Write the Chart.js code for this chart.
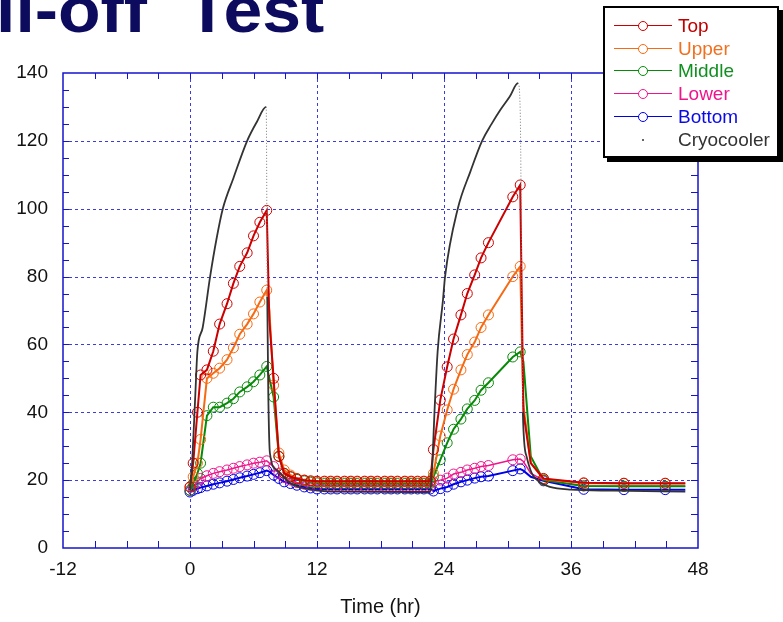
<!DOCTYPE html>
<html>
<head>
<meta charset="utf-8">
<script src="https://cdn.jsdelivr.net/npm/chart.js@4.4.1/dist/chart.umd.min.js"></script>
<style>
  html, body { margin: 0; padding: 0; background: #fff; }
  #wrap { position: relative; width: 783px; height: 622px; overflow: hidden; }
  #chart { position: absolute; left: 0; top: 0; }
  #title { position: absolute; left: -4px; top: -22px; font: bold 64px "Liberation Sans", Arial, sans-serif; line-height: 64px; color: #0d0b5e; white-space: nowrap; word-spacing: 18px; transform: scaleX(1.09); transform-origin: 0 0; }
  #legend { position: absolute; left: 603px; top: 6px; width: 172px; height: 148px; border: 2px solid #000; background: #fff; box-shadow: 4px 4px 0 #000; }
  .item { position: absolute; left: 0; width: 172px; height: 22px; }
  .item .ln { position: absolute; left: 9px; width: 58px; top: 10px; height: 0; border-top: 1.5px solid; }
  .item .mk { position: absolute; left: 33px; top: 6px; width: 10px; height: 10px; border: 1px solid; border-radius: 50%; box-sizing: border-box; background: #fff; }
  .item .dot { position: absolute; left: 37px; top: 10px; width: 2px; height: 2px; background: #666; }
  .item .tx { position: absolute; left: 73px; top: 0; font: 19px "Liberation Sans", Arial, sans-serif; line-height: 22px; }
</style>
</head>
<body>
<div id="wrap">
  <canvas id="chart" width="783" height="622"></canvas>
  <div id="title">ll-off Test</div>
  <div id="legend"></div>
</div>
<script>
// time axis (hr) shared by the five tank sensors
const hours = [0, 0.3, 0.7, 1.0, 1.6, 2.2, 2.8, 3.5, 4.1, 4.7, 5.4, 6.0, 6.6, 7.25,
  7.5, 7.9, 8.4, 8.9,
  9.5, 10.1, 10.8, 11.4, 12.0, 12.7, 13.3, 13.9, 14.6, 15.2, 15.8, 16.5, 17.1, 17.7, 18.4, 19.0, 19.6, 20.3, 20.9, 21.5, 22.1, 22.7,
  23.0, 23.65, 24.3, 24.9, 25.6, 26.2, 26.9, 27.5, 28.2, 30.5, 31.2,
  31.5, 32.2, 33.4,
  37.2, 41.0, 44.9, 46.8];

const topTemps = [18, 25, 40, 51, 52.5, 58, 66, 72, 78, 83, 87, 92, 96, 99.5,
  67, 50, 27, 22,
  21, 20.4, 20, 19.8, 19.7, 19.7, 19.7, 19.7, 19.7, 19.7, 19.7, 19.7, 19.7, 19.7, 19.7, 19.7, 19.7, 19.7, 19.7, 19.7, 19.7, 19.7,
  29, 43.6, 53.4, 61.6, 68.7, 75, 80.5, 85.5, 90, 103.5, 107,
  40, 25, 20.5,
  19.2, 19.1, 19.1, 19.1];

const upperTemps = [18, 21, 25, 32, 50, 51.5, 53, 55.5, 59, 63, 66, 69, 72.5, 76,
  70, 48, 28, 23,
  21.5, 20.5, 20, 19.7, 19.5, 19.5, 19.5, 19.5, 19.5, 19.5, 19.5, 19.5, 19.5, 19.5, 19.5, 19.5, 19.5, 19.5, 19.5, 19.5, 19.5, 19.5,
  22, 33, 40.7, 46.8, 52.5, 57, 60.7, 65, 68.7, 80, 83,
  42, 25, 20.3,
  19.1, 19.0, 19.0, 19.0];

const middleTemps = [17, 19, 22, 25, 39, 41.5, 41.5, 42.7, 44, 46, 47.5, 49, 51, 53.5,
  50, 44.5, 27, 22,
  21, 20.2, 19.8, 19.4, 19.2, 19.0, 19.0, 19.0, 19.0, 19.0, 19.0, 19.0, 19.0, 19.0, 19.0, 19.0, 19.0, 19.0, 19.0, 19.0, 19.0, 19.0,
  21, 26, 31, 35, 38, 41, 43.5, 46.5, 48.7, 56.3, 57.8,
  55, 27, 20,
  18.3, 18.2, 18.2, 18.2];

const lowerTemps = [17, 18, 19.5, 20.5, 21.3, 22, 22.5, 23, 23.5, 24, 24.5, 25, 25.3, 25.7,
  25, 24, 22, 20.8,
  20, 19.3, 18.8, 18.5, 18.3, 18.3, 18.3, 18.3, 18.3, 18.3, 18.3, 18.3, 18.3, 18.3, 18.3, 18.3, 18.3, 18.3, 18.3, 18.3, 18.3, 18.3,
  19.5, 20, 20.6, 21.8, 22.3, 23, 23.5, 24, 24.3, 26, 26.2,
  25.5, 22, 20,
  18.3, 18.2, 18.2, 18.2];

const bottomTemps = [16.5, 17, 17.5, 17.8, 18.3, 18.8, 19.2, 19.7, 20.2, 20.7, 21.2, 21.7, 22.2, 22.8,
  22.5, 21.5, 20.5, 19.5,
  19, 18.5, 18, 17.7, 17.4, 17.4, 17.4, 17.4, 17.4, 17.4, 17.4, 17.4, 17.4, 17.4, 17.4, 17.4, 17.4, 17.4, 17.4, 17.4, 17.4, 17.4,
  16.8, 17.5, 18, 18.8, 19.5, 20, 20.6, 21, 21.2, 22.8, 23.3,
  22.8, 21, 19.8,
  17.3, 17.2, 17.2, 17.2];

// cryocooler is logged on its own clock
const cryoHours = [0, 0.2, 0.5, 0.7, 1.2, 1.9, 2.5, 3.1, 4.1, 5.4, 6.3, 7.2, 7.3, 7.4, 7.55,
  8.2, 9.5, 12.0, 14.0, 22.7, 22.9, 23.1, 23.4, 23.9, 24.1, 25.3, 26.5, 27.6, 28.5, 29.3,
  30.2, 31.0, 31.2, 31.45, 31.8, 32.3, 33.0, 34.0, 36.0, 40.0, 46.8];
const cryoTemps = [17, 25, 45, 58, 65, 80, 91, 100, 109, 120, 125.5, 130, 74, 45, 28,
  23, 19, 17, 16.6, 16.5, 25, 40, 58, 73, 80, 100, 111, 120, 125, 129,
  133, 137, 129, 40, 27, 22, 19.5, 18, 17.2, 16.9, 16.6];

// points drawn without a circle marker
const unmarkedHours = [7.5, 31.5, 32.2, 46.8];

const xTicks = [-12, 0, 12, 24, 36, 48];
const yTicks = [0, 20, 40, 60, 80, 100, 120, 140];

const series = [
  { label: 'Top', data: topTemps, color: '#cc0000', text: '#c00000', width: 2 },
  { label: 'Upper', data: upperTemps, color: '#f56a12', text: '#f07020', width: 2 },
  { label: 'Middle', data: middleTemps, color: '#078a07', text: '#109020', width: 2 },
  { label: 'Lower', data: lowerTemps, color: '#f0158d', text: '#f0148c', width: 1.5 },
  { label: 'Bottom', data: bottomTemps, color: '#0000e6', text: '#0a0ae6', width: 2 }
];

const datasets = series.map(s => ({
  label: s.label,
  data: hours.map((h, i) => ({ x: h, y: s.data[i] })),
  showLine: true,
  borderColor: s.color,
  borderWidth: s.width,
  pointStyle: 'circle',
  pointRadius: ctx => (ctx.raw && unmarkedHours.includes(ctx.raw.x)) ? 0 : 5,
  pointBorderColor: s.color,
  pointBackgroundColor: 'rgba(0,0,0,0)',
  pointBorderWidth: 1
}));

// the fast fall after each peak is only sparsely logged -> dotted
const isDrop = ctx => ctx.p0.parsed.y > 100 && ctx.p0.parsed.y - ctx.p1.parsed.y > 5;

datasets.push({
  label: 'Cryocooler',
  data: cryoHours.map((h, i) => ({ x: h, y: cryoTemps[i] })),
  showLine: true,
  order: -1,
  borderColor: '#333333',
  borderWidth: 1.8,
  cubicInterpolationMode: 'monotone',
  pointRadius: 0,
  segment: {
    borderDash: ctx => isDrop(ctx) ? [1, 2] : undefined,
    borderColor: ctx => isDrop(ctx) ? '#777' : undefined,
    borderWidth: ctx => isDrop(ctx) ? 1 : undefined
  }
});

// legend box
const legend = document.getElementById('legend');
const rows = [7, 30, 52, 75, 98, 121];
series.forEach((s, i) => {
  const d = document.createElement('div');
  d.className = 'item';
  d.style.top = rows[i] + 'px';
  d.innerHTML = `<div class="ln" style="border-color:${s.color}"></div><div class="mk" style="border-color:${s.color}"></div><div class="tx" style="color:${s.text}">${s.label}</div>`;
  legend.appendChild(d);
});
const cr = document.createElement('div');
cr.className = 'item';
cr.style.top = rows[5] + 'px';
cr.innerHTML = '<div class="dot"></div><div class="tx" style="color:#333">Cryocooler</div>';
legend.appendChild(cr);

const gridBlue = '#3b3bdf';
const axisBlue = '#1414cc';

const framePlugin = {
  id: 'frame',
  beforeDatasetsDraw(chart) {
    const { ctx, chartArea: a, scales: { x, y } } = chart;
    ctx.save();
    ctx.strokeStyle = gridBlue;
    ctx.lineWidth = 1;
    ctx.setLineDash([3, 3]);
    xTicks.slice(1, -1).forEach(v => {
      const px = Math.round(x.getPixelForValue(v)) + 0.5;
      ctx.beginPath(); ctx.moveTo(px, a.top); ctx.lineTo(px, a.bottom); ctx.stroke();
    });
    yTicks.slice(1, -1).forEach(v => {
      const py = Math.round(y.getPixelForValue(v)) + 0.5;
      ctx.beginPath(); ctx.moveTo(a.left, py); ctx.lineTo(a.right, py); ctx.stroke();
    });
    ctx.restore();
  },
  afterDatasetsDraw(chart) {
    const { ctx, chartArea: a, scales: { x, y } } = chart;
    ctx.save();
    ctx.strokeStyle = axisBlue;
    ctx.lineWidth = 1.5;
    ctx.strokeRect(a.left, a.top, a.right - a.left, a.bottom - a.top);
    ctx.lineWidth = 1;
    ctx.beginPath();
    for (let v = x.min + 3; v < x.max; v += 3) {
      const px = Math.round(x.getPixelForValue(v)) + 0.5;
      ctx.moveTo(px, a.bottom); ctx.lineTo(px, a.bottom - 7);
      ctx.moveTo(px, a.top); ctx.lineTo(px, a.top + 6);
    }
    for (let v = y.min + 5; v < y.max; v += 5) {
      const py = Math.round(y.getPixelForValue(v)) + 0.5;
      ctx.moveTo(a.left, py); ctx.lineTo(a.left + 6, py);
      ctx.moveTo(a.right, py); ctx.lineTo(a.right - 7, py);
    }
    ctx.stroke();
    ctx.restore();
  }
};

const tickFont = { family: '"Liberation Sans", Arial, sans-serif', size: 19 };

new Chart(document.getElementById('chart'), {
  type: 'scatter',
  data: { datasets },
  options: {
    responsive: false,
    animation: false,
    layout: { padding: { left: 0, right: 85, top: 73, bottom: 0 } },
    plugins: { legend: { display: false }, tooltip: { enabled: false } },
    scales: {
      x: {
        type: 'linear',
        min: -12,
        max: 48,
        afterBuildTicks: s => { s.ticks = xTicks.map(v => ({ value: v })); },
        afterFit: s => { s.height = 74; },
        grid: { display: false, drawTicks: false },
        border: { display: false },
        ticks: { padding: 10, font: tickFont, color: '#111', autoSkip: false, maxRotation: 0 },
        title: { display: true, text: 'Time (hr)', font: { family: '"Liberation Sans", Arial, sans-serif', size: 20 }, color: '#111', padding: { top: 0, bottom: 3 } }
      },
      y: {
        min: 0,
        max: 140,
        afterBuildTicks: s => { s.ticks = yTicks.map(v => ({ value: v })); },
        afterFit: s => { s.width = 63; },
        grid: { display: false, drawTicks: false },
        border: { display: false },
        ticks: { padding: 15, font: tickFont, color: '#111', autoSkip: false }
      }
    }
  },
  plugins: [framePlugin]
});
</script>
</body>
</html>
